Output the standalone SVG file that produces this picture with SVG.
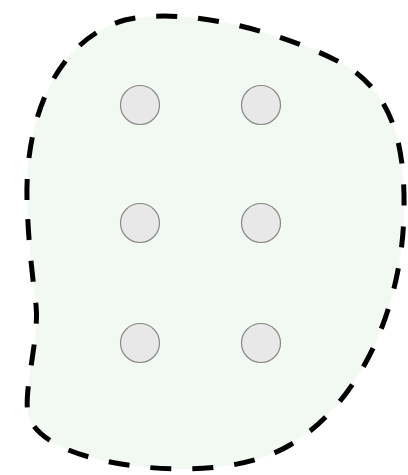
<svg xmlns="http://www.w3.org/2000/svg" width="408" height="475" viewBox="0 0 408 475">
<style>
.blob{fill:#f2f9f2;stroke:#000;stroke-width:5;stroke-dasharray:21 21;}
.n{fill:#e8e8e8;stroke:#888;stroke-width:1.2;}
</style>
<rect width="408" height="475" fill="#fff"/>
<g id="region">
<path class="blob" d="M 27,200 C 25,120 55,40 125,20 C 190,5 290,35 345,65 C 395,95 405,150 404,210 C 403,300 365,400 290,445 C 240,475 160,472 110,462 C 70,454 40,440 30,420 C 20,400 40,340 36,305 C 31,265 28,235 27,200 Z"/>
</g>
<g id="n1"><circle class="n" cx="140" cy="105" r="19.5"/></g>
<g id="n2"><circle class="n" cx="261" cy="105" r="19.5"/></g>
<g id="n3"><circle class="n" cx="140" cy="223" r="19.5"/></g>
<g id="n4"><circle class="n" cx="261" cy="223" r="19.5"/></g>
<g id="n5"><circle class="n" cx="140" cy="343" r="19.5"/></g>
<g id="n6"><circle class="n" cx="261" cy="343" r="19.5"/></g>
<g id="connectors"></g>
</svg>
